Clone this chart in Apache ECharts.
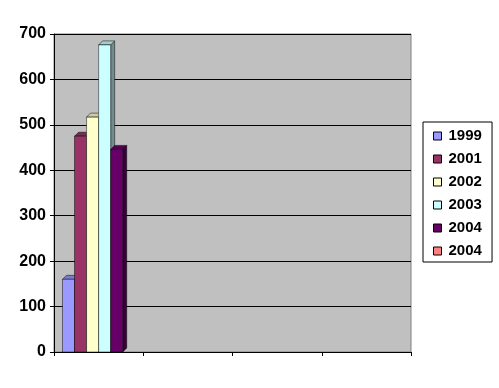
<!DOCTYPE html>
<html><head><meta charset="utf-8">
<script src="https://cdn.jsdelivr.net/npm/echarts@6/dist/echarts.min.js"></script>
<style>html,body{margin:0;padding:0;background:#fff}#c{width:499px;height:388px}</style>
</head><body><div id="c"></div>
<script>
const categories = ['', '', '', ''];
const seriesNames = ['1999', '2001', '2002', '2003', '2004', '2004 '];
const seriesColors = ['#9999FF', '#993366', '#FFFFCC', '#CCFFFF', '#660066', '#FF8080'];
const v1999 = [160, null, null, null];
const v2001 = [475, null, null, null];
const v2002 = [517, null, null, null];
const v2003 = [676, null, null, null];
const v2004a = [446, null, null, null];
const v2004b = [null, null, null, null];
const allValues = [v1999, v2001, v2002, v2003, v2004a, v2004b];
const yTicks = { min: 0, max: 700, interval: 100 };

const chart = echarts.init(document.getElementById('c'), null, { renderer: 'canvas' });
const nSeries = seriesNames.length;
const DEPTH = 4;

function shade(hex, f) {
  const n = parseInt(hex.slice(1), 16);
  const r = Math.round(((n >> 16) & 255) * f), g = Math.round(((n >> 8) & 255) * f), b = Math.round((n & 255) * f);
  return 'rgb(' + r + ',' + g + ',' + b + ')';
}

function makeRender(idx, color) {
  return function (params, api) {
    const v = api.value(1);
    if (v === null || v === undefined || isNaN(v)) return;
    const cat = api.value(0);
    const base = api.coord([cat, 0]);
    const top = api.coord([cat, v]);
    const band = api.size([1, 0])[0];
    const bw = band * 0.135;
    const x0 = base[0] - (nSeries / 2) * bw + idx * bw;
    const x1 = x0 + bw;
    const yT = top[1], yB = base[1];
    const d = DEPTH;
    const stroke = 'rgba(0,0,0,0.8)';
    return {
      type: 'group',
      children: [
        { type: 'polygon', shape: { points: [[x1, yT], [x1 + d, yT - d], [x1 + d, yB - d], [x1, yB]] },
          style: { fill: shade(color, 0.55), stroke: stroke, lineWidth: 0.6 } },
        { type: 'polygon', shape: { points: [[x0, yT], [x0 + d, yT - d], [x1 + d, yT - d], [x1, yT]] },
          style: { fill: shade(color, 0.8), stroke: stroke, lineWidth: 0.6 } },
        { type: 'rect', shape: { x: x0, y: yT, width: bw, height: yB - yT },
          style: { fill: color, stroke: stroke, lineWidth: 0.6 } }
      ]
    };
  };
}

const series = seriesNames.map((name, i) => ({
  name: name,
  type: 'custom',
  itemStyle: { color: seriesColors[i] },
  renderItem: makeRender(i, seriesColors[i]),
  encode: { x: 0, y: 1 },
  data: allValues[i].map((v, k) => [k, v === null ? '-' : v])
}));

chart.setOption({
  animation: false,
  backgroundColor: '#fff',
  grid: { left: 54, right: 88, top: 34, bottom: 36, show: true, backgroundColor: '#C0C0C0', borderColor: '#808080', borderWidth: 1 },
  legend: {
    orient: 'vertical', left: 423, top: 122,
    data: seriesNames.map((n, i) => ({ name: n, itemStyle: { color: seriesColors[i] } })),
    itemWidth: 8, itemHeight: 8, itemGap: 7,
    icon: 'rect',
    itemStyle: { borderColor: '#000', borderWidth: 1 },
    textStyle: { fontFamily: 'Liberation Sans, Arial', fontWeight: 'bold', fontSize: 15, lineHeight: 16, color: '#000', padding: [0, 0, 0, 2] },
    borderColor: '#000', borderWidth: 1, padding: [6, 6, 3, 10],
    selectedMode: false
  },
  xAxis: {
    type: 'category', data: categories, boundaryGap: true,
    axisLine: { lineStyle: { color: '#000', width: 1 } },
    axisTick: { show: true, length: 4, lineStyle: { color: '#000' } },
    axisLabel: { show: false },
    splitLine: { show: false }
  },
  yAxis: {
    type: 'value', min: yTicks.min, max: yTicks.max, interval: yTicks.interval,
    axisLine: { show: true, lineStyle: { color: '#000', width: 1 } },
    axisTick: { show: true, length: 4, lineStyle: { color: '#000' } },
    axisLabel: { fontFamily: 'Liberation Sans, Arial', fontWeight: 'bold', fontSize: 16, color: '#000', margin: 8 },
    splitLine: { show: true, lineStyle: { color: '#000', width: 1 } }
  },
  series: series
});
</script></body></html>
